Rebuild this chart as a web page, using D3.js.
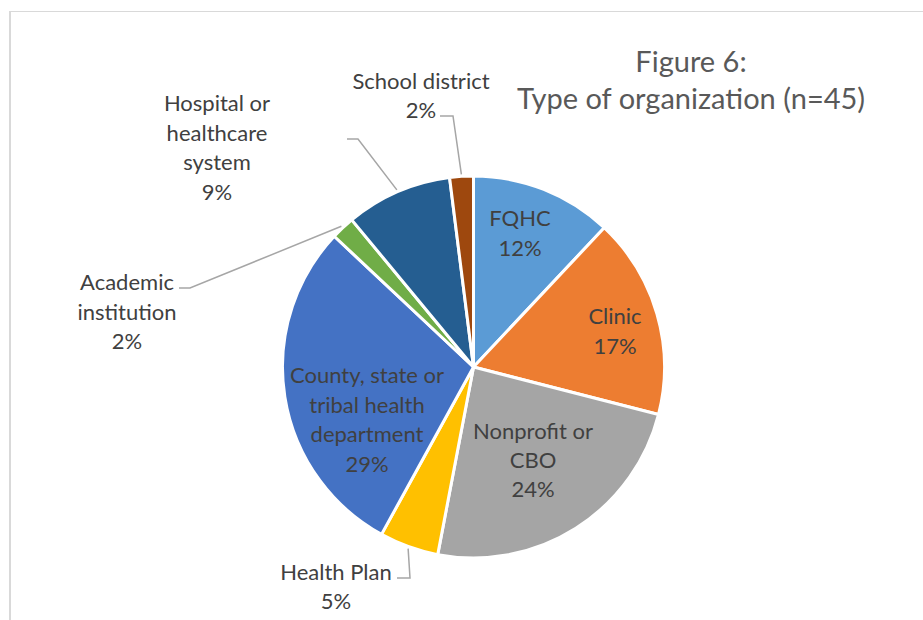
<!DOCTYPE html>
<html>
<head>
<meta charset="utf-8">
<script src="https://cdn.jsdelivr.net/npm/d3@7"></script>
<style>
  html, body { margin: 0; padding: 0; background: #ffffff; }
  svg { display: block; }
  text { font-family: Lato, "Open Sans", sans-serif; }
</style>
</head>
<body>
<svg id="chart" width="923" height="620"></svg>
<script>
// Organization types and their share of respondents (percent)
const categories = [
  "FQHC",
  "Clinic",
  "Nonprofit or CBO",
  "Health Plan",
  "County, state or tribal health department",
  "Academic institution",
  "Hospital or healthcare system",
  "School district"
];
const percents = [12, 17, 24, 5, 29, 2, 9, 2];
const sliceColors = ["#5B9BD5", "#ED7D31", "#A5A5A5", "#FFC000", "#4472C4", "#70AD47", "#255E91", "#9E480E"];
// How each category name is broken over lines in its label
const labelLines = [
  ["FQHC"],
  ["Clinic"],
  ["Nonprofit or", "CBO"],
  ["Health Plan"],
  ["County, state or", "tribal health", "department"],
  ["Academic", "institution"],
  ["Hospital or", "healthcare", "system"],
  ["School district"]
];
const titleLines = ["Figure 6:", "Type of organization (n=45)"];

// Label placement, relative to the pie centre (block centre of each label),
// with leader-line elbows for the labels drawn outside the pie.
const labelLayout = [
  { dx: 46.5,   dy: -134.5 },
  { dx: 141.5,  dy: -36.5 },
  { dx: 59.5,   dy: 92.5 },
  { dx: -137.5, dy: 219,  leader: { elbow: [-63.5, 211],  end: [-76.5, 211] } },
  { dx: -106.5, dy: 52 },
  { dx: -346.5, dy: -56,  leader: { elbow: [-283.5, -79], end: [-294.5, -79] } },
  { dx: -256.5, dy: -220, leader: { elbow: [-115.5, -228], end: [-126.5, -228] } },
  { dx: -52.5,  dy: -272, leader: { elbow: [-20.5, -251], end: [-33.5, -251] } }
];

const W = 923, H = 620;
const cx = 473.5, cy = 367, radius = 191;
const labelSize = 22, labelLead = 29.4;
const titleSize = 29, titleLead = 37.5;

const svg = d3.select("#chart");

// chart area frame (left and top edges fall inside the view)
svg.append("line")
  .attr("x1", 10).attr("x2", 10).attr("y1", 11).attr("y2", H)
  .attr("stroke", "#d9d9d9").attr("stroke-width", 2);
svg.append("line")
  .attr("x1", 9).attr("x2", W).attr("y1", 11.5).attr("y2", 11.5)
  .attr("stroke", "#d9d9d9").attr("stroke-width", 1);

const data = categories.map((c, i) => ({
  name: c, value: percents[i], color: sliceColors[i], lines: labelLines[i], layout: labelLayout[i]
}));

const pie = d3.pie().value(d => d.value).sort(null).startAngle(0).endAngle(2 * Math.PI);
const arcs = pie(data);
const arc = d3.arc().innerRadius(0).outerRadius(radius);
const edgeArc = d3.arc().innerRadius(radius + 2).outerRadius(radius + 2);

const g = svg.append("g").attr("transform", `translate(${cx},${cy})`);

g.selectAll("path.slice")
  .data(arcs)
  .join("path")
  .attr("class", "slice")
  .attr("d", arc)
  .attr("fill", d => d.data.color)
  .attr("stroke", "#ffffff")
  .attr("stroke-width", 3)
  .attr("stroke-linejoin", "round");

// leader lines for labels placed outside the pie
const withLeader = arcs.filter(d => d.data.layout.leader);
g.selectAll("polyline.leader")
  .data(withLeader)
  .join("polyline")
  .attr("class", "leader")
  .attr("points", d => {
    const s = edgeArc.centroid(d);
    const L = d.data.layout.leader;
    return [s, L.elbow, L.end].map(p => p.join(",")).join(" ");
  })
  .attr("fill", "none")
  .attr("stroke", "#a6a6a6")
  .attr("stroke-width", 1.5);

// data labels: category name lines followed by the percentage
const labels = g.selectAll("text.label")
  .data(arcs)
  .join("text")
  .attr("class", "label")
  .attr("text-anchor", "middle")
  .attr("fill", "#404040")
  .attr("font-size", labelSize);

labels.each(function(d) {
  const rows = d.data.lines.concat([d3.format("d")(d.data.value) + "%"]);
  const top = d.data.layout.dy - (rows.length - 1) * labelLead / 2;
  d3.select(this).selectAll("tspan")
    .data(rows)
    .join("tspan")
    .attr("x", d.data.layout.dx)
    .attr("y", (r, i) => top + i * labelLead)
    .attr("dominant-baseline", "central")
    .text(r => r);
});

// chart title
const title = svg.append("text")
  .attr("text-anchor", "middle")
  .attr("fill", "#595959")
  .attr("font-size", titleSize);
title.selectAll("tspan")
  .data(titleLines)
  .join("tspan")
  .attr("x", 691)
  .attr("y", (t, i) => 71.5 + i * titleLead)
  .text(t => t);
</script>
</body>
</html>
